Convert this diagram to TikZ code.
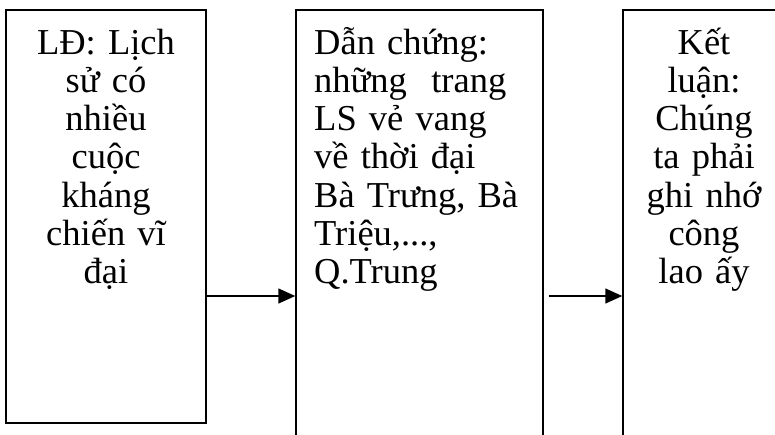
\documentclass[tikz,border=0pt]{standalone}
\usepackage{fontspec}
\setmainfont{Liberation Serif}
\usetikzlibrary{arrows.meta}
\begin{document}
\begin{tikzpicture}[x=1pt,y=-1pt,
  boxline/.style={draw=black,line width=1.5pt,inner sep=0pt},
  boxtext/.style={inner sep=0pt,font=\fontsize{36.5}{38.3}\selectfont},
  conn/.style={line width=1.5pt,-{Triangle[length=17pt,width=15pt]}}]
\useasboundingbox (0,0) rectangle (775,434);
\clip (0,0) rectangle (775,434);
\fill[white] (0,0) rectangle (775,434);
% boxes
\node[boxline,minimum width=200pt,minimum height=413pt] (b1) at (106,216.5) {};
\node[boxline,minimum width=247pt,minimum height=460pt] (b2) at (419.5,240) {};
\node[boxline,minimum width=165pt,minimum height=460pt] (b3) at (705.5,240) {};
% texts
\node[boxtext,text width=200pt,align=center,anchor=base] (t1) at (106,54)
  {LĐ: Lịch\\sử có\\nhiều\\cuộc\\kháng\\chiến vĩ\\đại};
\node[boxtext,text width=225pt,align=left,anchor=base west] (t2) at (314,54)
  {Dẫn chứng:\\những\ \ trang\\LS vẻ vang\\về thời đại\\Bà Trưng, Bà\\Triệu,...,\\Q.Trung};
\node[boxtext,text width=160pt,align=center,anchor=base] (t3) at (704,54)
  {Kết\\luận:\\Chúng\\ta phải\\ghi nhớ\\công\\lao ấy};
% connectors
\coordinate (ay) at (0,296);
\draw[conn] (b1.east |- ay) -- (b2.west |- ay);
\draw[conn,shorten <=5pt] (b2.east |- ay) -- (b3.west |- ay);
\end{tikzpicture}
\end{document}
